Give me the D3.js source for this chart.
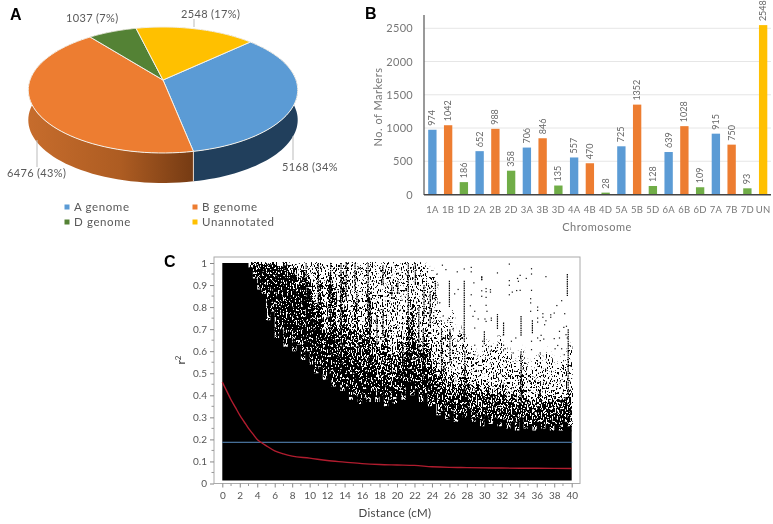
<!DOCTYPE html>
<html><head><meta charset="utf-8">
<script src="https://cdn.jsdelivr.net/npm/d3@7"></script>
<style>
html,body{margin:0;padding:0;background:#fff}
svg{display:block;filter:blur(.35px)}
text{font-family:Lato,"Open Sans",sans-serif}
</style></head><body><svg id="c" width="773" height="524"></svg>
<script>
// ---------- Panel A data
const pieNames=["A genome","B genome","D genome","Unannotated"];
const pieValues=[5168,6476,1037,2548];
const pieLabels=["5168 (34%","6476 (43%)","1037 (7%)","2548 (17%)"];
const pieColors=["#5b9bd5","#ed7d31","#548235","#ffc000"];
// ---------- Panel B data
const chromosomes=["1A","1B","1D","2A","2B","2D","3A","3B","3D","4A","4B","4D","5A","5B","5D","6A","6B","6D","7A","7B","7D","UN"];
const markers=[974,1042,186,652,988,358,706,846,135,557,470,28,725,1352,128,639,1028,109,915,750,93,2548];
const barColors={A:"#5b9bd5",B:"#ed7d31",D:"#70ad47",N:"#ffc000"};
const markerTicks=[0,500,1000,1500,2000,2500];
// ---------- Panel C data (one value per 0.5 cM)
const solidTop=[1,1,1,1,1,1,.98,.93,.88,.86,.74,.78,.66,.7,.62,.66,.6,.63,.56,.6,.54,.5,.53,.47,.5,.44,.46,.42,.44,.38,.4,.36,.39,.37,.42,.37,.4,.35,.38,.36,.42,.38,.46,.4,.43,.37,.41,.35,.36,.31,.33,.29,.33,.28,.32,.3,.34,.28,.3,.26,.31,.27,.3,.26,.29,.25,.28,.24,.3,.25,.27,.24,.28,.25,.27,.24,.27,.24,.28,.26,.3];
const midTop=[1,1,1,1,1,1,1,1,1,1,1,1,1,.98,1,.96,.98,.9,.96,.9,.8,.74,.78,.62,.7,.7,.58,.62,.6,.5,.58,.48,.5,.56,.52,.46,.48,.5,.46,.44,.52,.48,.58,.55,.5,.45,.52,.48,.44,.38,.42,.36,.4,.34,.38,.4,.38,.33,.35,.31,.36,.32,.35,.31,.34,.3,.33,.29,.38,.3,.31,.28,.33,.3,.32,.29,.31,.3,.33,.32,.35];
const denseTop=[1,1,1,1,1,1,1,1,1,.98,1,.96,1,.95,1,.94,.98,.92,.97,.94,.9,.82,.92,.7,.95,.9,.72,.95,.78,.7,.82,.68,.7,.88,.66,.62,.64,.7,.6,.58,.66,.6,.72,.82,.65,.6,.68,.62,.55,.5,.54,.45,.5,.44,.47,.5,.46,.43,.45,.41,.44,.42,.43,.41,.44,.4,.42,.38,.5,.39,.38,.36,.42,.38,.4,.39,.38,.39,.4,.42,.44];
const sparseTop=[1,1,1,1,1,1,1,1,1,1,1,1,1,1,1,1,1,1,1,1,1,1,1,1,1,1,1,1,1,1,1,1,1,1,1,1,1,1,1,1,1,1,1,1,1,1,.98,.96,.95,.8,.72,.72,.78,.62,.7,.66,.62,.6,.56,.58,.64,.6,.62,.66,.6,.6,.56,.52,.6,.55,.5,.56,.58,.55,.6,.56,.52,.56,.55,.62,.58];
const bandTones=[.95,.7,.27];
const streaks=[[27.7,.92,.645],[27.75,.6,.36],[34.2,.76,.67],[34.2,.6,.35],[32.2,.73,.67],[35.5,.74,.68],[39.5,.95,.85],[39.6,.7,.4],[31.5,.76,.7],[30,.69,.63],[29.7,.94,.92],[26,.92,.8],[26.05,.7,.55],
[21.3,1,.72],[21.35,.72,.42],[16.7,1,.74],[15.2,1,.88],[18.4,.99,.9],[18.4,.79,.66],[14.2,1,.83],[13.6,1,.5],[20.1,.92,.86],[24.4,.92,.83],[19.4,.9,.85],[23.8,.87,.72],[20.7,.64,.48],[15.4,.87,.78],[17.7,.76,.63],[16.9,.84,.65],[12.4,1,.62],[11,1,.75],[9.6,1,.55],[22.5,.8,.55],[23,.7,.45],[22.1,1,.9],[23.1,.9,.75],[25.1,.7,.5]];
const looseDist=[32.86,27.7,28.5,28.5,31.5,35.4,35.4,34.1,33.8,33.9,34.8,37.05,32.86,32.86,28.8,29.7,29.7,35.4,34.1,33.7,33.2,32.86,30.2,30.2,30.7,30.7,29.7,29.7,30.2,28.5,35.3,35.3,38.85,38.3,36.1,36.1,35.3,38,28.9,30.2,30.3,28.4,28.7,29.3,28.9,30.07,30.2,30.8,30.8,31.5,36.7,36.7,37.6,37.6,36.1,39.2,37.05,36.1,36.9,39.4,39.1,38.6,38.6,39.35,39.5,36.5,36.1,35.4,36.4,36.8,38,33.1,33.6,38.4,38.1,38.85,35.4,36.4,39.15,39.6,33.3,28.9,29.8,29.8,30.8,31.5,32.2,32.4,27.8,30.7,28.4,28.9,25.2,25.6,26.6,26.9,24.9,25.3,24.7,26.4,27.2,25.8,27,26.2,24.6];
const looseR2=[.995,.973,.98,.96,.955,.974,.95,.944,.93,.917,.93,.938,.92,.899,.91,.935,.924,.876,.876,.875,.868,.856,.884,.87,.879,.868,.874,.849,.844,.856,.838,.819,.829,.807,.8,.785,.781,.773,.781,.808,.781,.806,.758,.746,.705,.746,.735,.75,.74,.766,.77,.754,.765,.754,.75,.77,.738,.732,.72,.713,.708,.69,.66,.675,.66,.672,.66,.645,.648,.655,.657,.645,.66,.626,.611,.611,.607,.592,.584,.6,.592,.627,.645,.622,.622,.627,.627,.611,.615,.6,.592,.584,.99,.97,.86,.96,.82,.76,.9,.7,.68,.74,.88,.66,.95];
const decayDist=[0,.5,1,1.5,2,2.5,3,3.5,4,4.5,5,6,7,8,10,12,14,16,18,20,22,24,26,28,32,36,40];
const decayR2=[.46,.42,.38,.345,.31,.28,.25,.225,.2,.185,.172,.148,.134,.124,.115,.104,.097,.09,.086,.084,.082,.076,.073,.072,.07,.069,.068];
const ldCritical=.187;
const distTicks=d3.range(0,41,2), r2Ticks=d3.range(0,1.01,.1);

const svg=d3.select("#c");
const panel=(t,x,y)=>svg.append("text").attr("x",x).attr("y",y).text(t).style("font-family","Liberation Sans").style("font-weight",700).style("font-size","16px").attr("fill","#000");
panel("A",10,20);panel("B",365,19);panel("C",164,267);

// ---------- Panel A: perspective pie
const P=.1587, cx=163, cy=80, ra=133, rb=61.4, depth=30;
const proj=(t,dy=0)=>{const u=Math.sin(t),v=-Math.cos(t),w=1-P*v;return [cx+ra*u/w,cy+rb*v/w+dy];};
const start=46.7*Math.PI/180;
const arcs=d3.pie().sort(null).startAngle(start).endAngle(start+2*Math.PI)(pieValues);
const sample=(a,b,dy)=>d3.range(0,61).map(i=>proj(a+(b-a)*i/60,dy));
const line=d3.line();
const defs=svg.append("defs");
const grad=defs.append("linearGradient").attr("id","gb").attr("gradientUnits","userSpaceOnUse").attr("x1",30).attr("x2",195).attr("y1",0).attr("y2",0);
[[0,"#c66c2c"],[.55,"#ad5c22"],[1,"#743a13"]].forEach(s=>grad.append("stop").attr("offset",s[0]).attr("stop-color",s[1]));
const sideFill=["#213f5c","url(#gb)","#3a5a25","#a87e00"];
[2,3,0,1].forEach(i=>{const d=arcs[i];
  svg.append("path").attr("fill",sideFill[i])
   .attr("d",line(sample(d.startAngle,d.endAngle,0).concat(sample(d.startAngle,d.endAngle,depth).reverse()))+"Z");});
const f=proj(arcs[1].startAngle);
svg.append("line").attr("x1",f[0]).attr("x2",f[0]).attr("y1",f[1]).attr("y2",f[1]+depth).attr("stroke","#e9d9cd").attr("stroke-width",1);
arcs.forEach((d,i)=>{
  svg.append("path").attr("fill",pieColors[i]).attr("stroke","#f4f1ea").attr("stroke-width",1).attr("stroke-linejoin","round")
   .attr("d",line([[cx,cy]].concat(sample(d.startAngle,d.endAngle,0)))+"Z");});
const pieLabelPos=[[282,171],[7,177],[66,22],[181,18]];
pieLabels.forEach((t,i)=>svg.append("text").attr("x",pieLabelPos[i][0]).attr("y",pieLabelPos[i][1]).text(t).attr("fill","#595959").style("font-size","11px").style("letter-spacing",".35px"));
[[293,136,160],[37,140,167],[194,19,27]].forEach(l=>svg.append("line").attr("x1",l[0]).attr("x2",l[0]).attr("y1",l[1]).attr("y2",l[2]).attr("stroke","#bbb"));
const legX=[67,195], legY=[207,222];
pieNames.forEach((n,i)=>{const x=legX[i%2],y=legY[i>>1];
  svg.append("rect").attr("x",x-2.5).attr("y",y-2.5).attr("width",5).attr("height",5).attr("fill",pieColors[i]);
  svg.append("text").attr("x",x+7).attr("y",y+4).text(n).attr("fill","#595959").style("font-size","11.5px").style("letter-spacing",".6px");});

// ---------- Panel B
const xB=d3.scaleBand().domain(chromosomes).range([424.5,771]).paddingInner(.47).paddingOuter(.235);
const yB=d3.scaleLinear().domain([0,2500]).range([194.5,28.3]);
markerTicks.slice(1).forEach(t=>svg.append("line").attr("x1",424).attr("x2",771).attr("y1",yB(t)).attr("y2",yB(t)).attr("stroke","#e6e6e6"));
svg.selectAll(".bar").data(chromosomes).join("rect").attr("x",d=>xB(d)).attr("width",xB.bandwidth())
  .attr("y",(d,i)=>yB(markers[i])).attr("height",(d,i)=>yB(0)-yB(markers[i]))
  .attr("fill",d=>barColors[d==="UN"?"N":d[1]]);
svg.append("line").attr("x1",424).attr("x2",424).attr("y1",15).attr("y2",195).attr("stroke","#555").attr("stroke-width",1.2);
svg.append("line").attr("x1",424).attr("x2",771).attr("y1",194.7).attr("y2",194.7).attr("stroke","#444").attr("stroke-width",1.4);
markerTicks.forEach(t=>svg.append("text").attr("x",413).attr("y",yB(t)+4).attr("text-anchor","end").text(t).attr("fill","#777").style("font-size","11px").style("letter-spacing",".3px"));
chromosomes.forEach((c,i)=>{const x=xB(c)+xB.bandwidth()/2;
  svg.append("text").attr("x",x).attr("y",213).attr("text-anchor","middle").text(c).attr("fill","#777").style("font-size","9.5px").style("letter-spacing",".2px");
  svg.append("text").attr("transform",`translate(${x+3},${yB(markers[i])-4}) rotate(-90)`).text(markers[i]).attr("fill","#666").style("font-size","9px");});
svg.append("text").attr("transform","translate(382,107) rotate(-90)").attr("text-anchor","middle").text("No. of Markers").attr("fill","#777").style("font-size","11px").style("letter-spacing",".5px");
svg.append("text").attr("x",597).attr("y",231).attr("text-anchor","middle").text("Chromosome").attr("fill","#777").style("font-size","11px").style("letter-spacing",".5px");

// ---------- Panel C
const xC=d3.scaleLinear().domain([0,40]).range([222.3,571.7]);
const yC=d3.scaleLinear().domain([0,1]).range([483.5,263]);
const floor=480.6;
const half=d3.range(0,40.01,.5);
const stip=defs.append("filter").attr("id","stip").attr("filterUnits","userSpaceOnUse").attr("x",222).attr("y",262.5).attr("width",351).attr("height",218.5).attr("color-interpolation-filters","sRGB");
stip.append("feGaussianBlur").attr("in","SourceAlpha").attr("stdDeviation","1 3").attr("result","d");
stip.append("feTurbulence").attr("type","fractalNoise").attr("baseFrequency",".8 .4").attr("numOctaves",2).attr("seed",4).attr("result","t");
stip.append("feColorMatrix").attr("in","t").attr("type","matrix").attr("values","0 0 0 0 0  0 0 0 0 0  0 0 0 0 0  3.2 0 0 0 -1.1").attr("result","n");
stip.append("feComposite").attr("in","d").attr("in2","n").attr("operator","arithmetic").attr("k1",0).attr("k2",1).attr("k3",1).attr("k4",-1).attr("result","m");
const tr=stip.append("feComponentTransfer").attr("in","m");
tr.append("feFuncA").attr("type","linear").attr("slope",7).attr("intercept",0);
const tone=svg.append("g").attr("filter","url(#stip)").attr("fill","#000");
tone.append("rect").attr("x",222).attr("y",262.5).attr("width",351).attr("height",218.5).attr("fill-opacity",.001);
const stepW=xC(.5)-xC(0)+.3;
[[solidTop,midTop],[midTop,denseTop],[denseTop,sparseTop]].forEach((b,k)=>{
  tone.append("g").selectAll("rect").data(half.slice(0,80)).join("rect")
   .attr("x",d=>xC(d)).attr("width",stepW).attr("y",(d,i)=>yC(Math.max(b[0][i],b[1][i])))
   .attr("height",(d,i)=>Math.max(0,yC(b[0][i])-yC(Math.max(b[0][i],b[1][i]))))
   .attr("fill-opacity",bandTones[k]);});
svg.append("path").attr("fill","#000").attr("d",d3.area().curve(d3.curveStepAfter).x(d=>xC(d)).y0(floor).y1((d,i)=>yC(solidTop[i]))(half));
const g=svg.append("g").attr("stroke","#000").attr("fill","none");
streaks.forEach(s=>g.append("line").attr("x1",xC(s[0])).attr("x2",xC(s[0])).attr("y1",yC(s[1])).attr("y2",yC(s[2])).attr("stroke-width",1.2).attr("stroke-dasharray","1.5 .8"));
svg.selectAll(".pt").data(looseDist).join("rect").attr("x",d=>xC(d)-.6).attr("y",(d,i)=>yC(looseR2[i])-.6).attr("width",1.2).attr("height",1.2).attr("fill","#111");
svg.append("line").attr("x1",222.3).attr("x2",572.5).attr("y1",yC(ldCritical)).attr("y2",yC(ldCritical)).attr("stroke","#5b8fc4").attr("stroke-width",1);
svg.append("path").attr("fill","none").attr("stroke","#b01c2e").attr("stroke-width",1.4)
  .attr("d",d3.line().curve(d3.curveMonotoneX).x(d=>xC(d)).y((d,i)=>yC(decayR2[i]))(decayDist));
svg.append("rect").attr("x",214).attr("y",257).attr("width",366).attr("height",226.5).attr("fill","none").attr("stroke","#aaa").attr("stroke-width",1);
const gy=svg.append("g").attr("transform","translate(214,0)").call(d3.axisLeft(yC).tickValues(r2Ticks).tickFormat(d3.format("~g")).tickSize(4).tickPadding(3));
const gx=svg.append("g").attr("transform","translate(0,483.5)").call(d3.axisBottom(xC).tickValues(distTicks).tickFormat(d3.format("d")).tickSize(4).tickPadding(4));
[gy,gx].forEach(a=>{a.select(".domain").remove();a.selectAll("line").attr("stroke","#888");a.selectAll("text").attr("fill","#555").style("font-family","Lato").style("font-size","10px");});
d3.range(.05,1,.1).forEach(v=>svg.append("line").attr("x1",211.5).attr("x2",214).attr("y1",yC(v)).attr("y2",yC(v)).attr("stroke","#999"));
d3.range(1,40,2).forEach(v=>svg.append("line").attr("x1",xC(v)).attr("x2",xC(v)).attr("y1",483.5).attr("y2",486).attr("stroke","#999"));
svg.append("text").attr("x",395).attr("y",517).attr("text-anchor","middle").text("Distance (cM)").attr("fill","#444").style("font-size","11.5px").style("letter-spacing",".3px");
svg.append("text").attr("transform","translate(185,360) rotate(-90)").attr("text-anchor","middle").attr("fill","#444").style("font-size","12px").html('r<tspan dy="-4" font-size="8">2</tspan>');
</script></body></html>
